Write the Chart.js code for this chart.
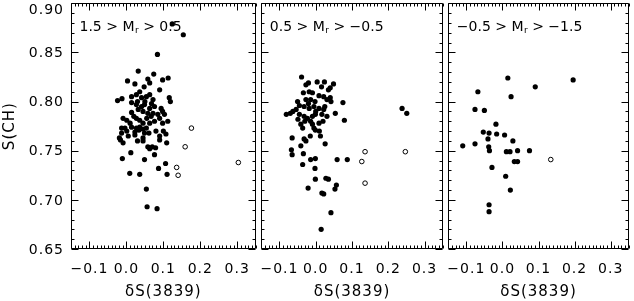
<!DOCTYPE html>
<html><head><meta charset="utf-8">
<script src="https://cdn.jsdelivr.net/npm/chart.js@4.4.1/dist/chart.umd.min.js"></script>
<style>
html,body{margin:0;padding:0;background:#fff;width:634px;height:301px;overflow:hidden}
canvas{position:absolute;top:0}
#c1{left:0}
#c2{left:258px}
#c3{left:445px}
</style></head><body>
<canvas id="c1" width="259" height="301"></canvas>
<canvas id="c2" width="188" height="301"></canvas>
<canvas id="c3" width="187" height="301"></canvas>
<script>
// ---- axis setup ----
const X_MIN = -0.15, X_MAX = 0.35, Y_MIN = 0.65, Y_MAX = 0.90;
const xTickValues = [-0.1, 0.0, 0.1, 0.2, 0.3];
const yTickValues = [0.65, 0.70, 0.75, 0.80, 0.85, 0.90];
const xTitle = 'δS(3839)';
const yTitle = 'S(CH)';
// panel labels: [before subscript, subscript, after]
const label1 = ['1.5 > M', 'r', ' > 0.5'];
const label2 = ['0.5 > M', 'r', ' > \u22120.5'];
const label3 = ['\u22120.5 > M', 'r', ' > \u22121.5'];

// ---- panel 1 (filled dots / open circles) [δS(3839), S(CH)] ----
const p1Filled = [
 [0.124,0.879],[0.154,0.868],[0.084,0.848],[0.032,0.831],[0.003,0.821],[0.023,0.818],[0.058,0.823],[0.074,0.828],
 [0.098,0.822],[0.113,0.824],[0.048,0.815],[0.063,0.819],[0.090,0.812],[-0.024,0.801],[-0.012,0.803],[0.014,0.805],
 [0.027,0.807],[0.036,0.810],[0.041,0.804],[0.054,0.805],[0.063,0.807],[0.072,0.802],[0.116,0.804],[0.119,0.800],
 [0.014,0.799],[0.027,0.797],[0.041,0.795],[0.049,0.797],[0.063,0.793],[0.076,0.795],[0.094,0.793],[0.098,0.790],
 [0.014,0.789],[0.045,0.790],[0.058,0.788],[0.072,0.788],[0.085,0.787],[0.090,0.783],[0.103,0.787],[-0.009,0.783],
 [0.001,0.781],[0.027,0.783],[0.036,0.781],[0.045,0.778],[0.063,0.778],[0.076,0.780],[0.098,0.778],[0.112,0.780],
 [-0.013,0.773],[-0.004,0.773],[0.014,0.774],[0.027,0.773],[0.036,0.774],[0.045,0.772],[0.054,0.773],[-0.013,0.768],
 [0.001,0.770],[0.023,0.769],[0.034,0.771],[0.061,0.768],[0.049,0.768],[-0.019,0.763],[-0.016,0.761],[-0.009,0.758],
 [0.023,0.766],[0.045,0.763],[0.045,0.760],[0.090,0.765],[0.090,0.761],[0.107,0.767],[0.109,0.758],[0.058,0.754],
 [0.063,0.752],[0.070,0.754],[0.079,0.753],[0.012,0.748],[0.076,0.746],[-0.011,0.742],[0.049,0.741],[0.106,0.737],
 [0.087,0.732],[0.009,0.727],[0.036,0.726],[0.110,0.726],[0.054,0.711],[0.056,0.693],[0.083,0.691],
 [0.030,0.800],[0.050,0.800],[0.020,0.785],[0.055,0.783],[0.068,0.798],[0.032,0.792],[0.010,0.778],[0.067,0.785],
 [0.080,0.770],[0.005,0.765],[0.100,0.770],[0.030,0.760]
];
const p1Open = [[0.176,0.773],[0.159,0.754],[0.136,0.733],[0.140,0.725],[0.303,0.738]];

// ---- panel 2 ----
const p2Filled = [
 [-0.039,0.825],[-0.020,0.819],[-0.027,0.817],[0.004,0.820],[0.024,0.820],[0.016,0.815],[0.049,0.818],[0.035,0.812],
 [0.040,0.814],[-0.034,0.809],[-0.018,0.810],[-0.009,0.809],[0.009,0.806],[0.022,0.805],[0.040,0.804],[-0.027,0.802],
 [-0.014,0.802],[-0.002,0.800],[0.031,0.802],[0.042,0.800],[0.075,0.799],[-0.045,0.796],[-0.032,0.795],[-0.018,0.793],
 [-0.005,0.795],[0.009,0.793],[0.022,0.792],[-0.054,0.792],[-0.063,0.790],[-0.081,0.787],[-0.070,0.788],[-0.045,0.787],
 [-0.032,0.785],[-0.023,0.783],[-0.009,0.785],[-0.001,0.787],[0.017,0.787],[0.031,0.785],[0.054,0.788],[0.079,0.781],
 [-0.049,0.782],[-0.041,0.777],[-0.036,0.773],[-0.014,0.780],[-0.009,0.777],[-0.005,0.773],[-0.001,0.771],[0.009,0.778],
 [0.013,0.765],[-0.065,0.763],[-0.032,0.762],[-0.027,0.760],[0.026,0.757],[-0.041,0.755],[-0.067,0.751],[-0.065,0.746],
 [-0.034,0.747],[0.238,0.793],[0.251,0.788],[-0.014,0.741],[-0.001,0.742],[0.059,0.741],[0.087,0.741],[-0.036,0.736],
 [-0.002,0.732],[-0.001,0.721],[0.028,0.722],[0.035,0.721],[0.057,0.715],[0.053,0.711],[-0.021,0.712],[0.017,0.707],
 [0.022,0.706],[0.042,0.687],[0.015,0.670],
 [-0.050,0.800],[-0.020,0.798],[0.000,0.790],[0.020,0.780],[-0.030,0.780],[0.010,0.770],[-0.015,0.765],[0.025,0.795]
];
const p2Open = [[0.136,0.749],[0.247,0.749],[0.127,0.739],[0.136,0.717]];

// ---- panel 3 ----
const p3Filled = [
 [0.015,0.824],[0.196,0.822],[0.091,0.815],[-0.068,0.810],[0.024,0.805],[-0.076,0.792],[-0.050,0.791],[-0.018,0.777],
 [-0.053,0.769],[-0.037,0.768],[-0.040,0.762],[-0.016,0.767],[0.006,0.766],[0.029,0.760],[-0.110,0.755],[-0.076,0.757],
 [-0.038,0.754],[-0.036,0.750],[0.011,0.749],[0.021,0.749],[0.042,0.750],[0.075,0.750],[-0.029,0.733],[0.033,0.739],
 [0.042,0.739],[0.009,0.724],[0.022,0.710],[-0.037,0.695],[-0.037,0.688]
];
const p3Open = [[0.134,0.741]];

const FAMILY = '"DejaVu Sans", "Liberation Sans", sans-serif';
const SPACING = '1px';

const framePlugin = {
  id: 'panelFrame',
  beforeUpdate(chart) { chart.ctx.letterSpacing = SPACING; },
  beforeDraw(chart) { chart.ctx.letterSpacing = SPACING; },
  afterDatasetsDraw(chart, args, opts) {
    const {ctx, chartArea: a, scales: {x, y}} = chart;
    ctx.save();
    ctx.strokeStyle = '#000';
    ctx.lineWidth = 1;
    const L = Math.round(a.left) + 0.5, R = Math.round(a.right) - 0.5;
    const T = Math.round(a.top) + 0.5, B = Math.round(a.bottom) - 0.5;
    ctx.beginPath();
    ctx.rect(L, T, R - L, B - T);
    for (let i = Math.round(X_MIN * 100); i <= Math.round(X_MAX * 100); i++) {
      const px = Math.round(x.getPixelForValue(i / 100)) + 0.5;
      const len = (i % 10 === 0) ? 7 : 3;
      ctx.moveTo(px, T); ctx.lineTo(px, T + len);
      ctx.moveTo(px, B); ctx.lineTo(px, B - len);
    }
    for (let i = Math.round(Y_MIN * 100); i <= Math.round(Y_MAX * 100); i++) {
      const py = Math.round(y.getPixelForValue(i / 100)) + 0.5;
      const len = (i % 5 === 0) ? 7 : 3;
      ctx.moveTo(L, py); ctx.lineTo(L + len, py);
      ctx.moveTo(R, py); ctx.lineTo(R - len, py);
    }
    ctx.stroke();
    // panel label
    const lab = opts.label;
    if (lab) {
      ctx.letterSpacing = '0px';
      ctx.fillStyle = '#000';
      ctx.textBaseline = 'middle';
      ctx.textAlign = 'left';
      let tx = a.left + 8.5;
      const ty = 27;
      ctx.font = '14px ' + FAMILY;
      ctx.fillText(lab[0], tx, ty);
      tx += ctx.measureText(lab[0]).width;
      ctx.font = '9px ' + FAMILY;
      ctx.fillText(lab[1], tx + 0.5, ty + 4);
      tx += ctx.measureText(lab[1]).width + 0.5;
      ctx.font = '14px ' + FAMILY;
      ctx.fillText(lab[2], tx, ty);
    }
    ctx.restore();
  }
};

function fmtX(v) {
  return (v < -1e-9 ? '\u2212' : '') + Math.abs(v).toFixed(1);
}

function makeChart(id, filled, open, label, showY) {
  return new Chart(document.getElementById(id), {
    type: 'scatter',
    data: {
      datasets: [
        {data: filled.map(p => ({x: p[0], y: p[1]})), pointRadius: 2.6, pointHoverRadius: 2.6,
         pointBackgroundColor: '#000', pointBorderWidth: 0, pointStyle: 'circle'},
        {data: open.map(p => ({x: p[0], y: p[1]})), pointRadius: 2.3, pointHoverRadius: 2.3,
         pointBackgroundColor: 'rgba(255,255,255,0)', pointBorderColor: '#000', pointBorderWidth: 1, pointStyle: 'circle'}
      ]
    },
    options: {
      responsive: false, animation: false, devicePixelRatio: 1, events: [],
      layout: {padding: {top: 1, left: 0, right: 0, bottom: 0}},
      plugins: {legend: {display: false}, tooltip: {enabled: false}, panelFrame: {label: label}},
      scales: {
        x: {
          type: 'linear', min: X_MIN, max: X_MAX,
          grid: {display: false, drawTicks: false}, border: {display: false},
          afterBuildTicks: s => { s.ticks = xTickValues.map(v => ({value: v})); },
          afterFit: s => { s.height = 52; s.paddingLeft = 0; s.paddingRight = 0; },
          ticks: {padding: 12, color: '#000', font: {family: FAMILY, size: 14}, maxRotation: 0, autoSkip: false,
                  callback: v => fmtX(v)},
          title: {display: true, text: xTitle, color: '#000', font: {family: FAMILY, size: 15}, padding: {top: 0, bottom: 0}}
        },
        y: {
          type: 'linear', min: Y_MIN, max: Y_MAX, display: showY,
          grid: {display: false, drawTicks: false}, border: {display: false},
          afterBuildTicks: s => { s.ticks = yTickValues.map(v => ({value: v})); },
          afterFit: s => { s.width = showY ? 71 : 0; s.paddingTop = 0; s.paddingBottom = 0; },
          ticks: {padding: 7, color: '#000', labelOffset: 1, autoSkip: false,
                  font: c => ({family: FAMILY, size: 14,
                               lineHeight: (c.tick && Math.abs(c.tick.value - Y_MAX) < 1e-9) ? 0.85 : 1.2}),
                  callback: v => Math.abs(v - Y_MAX) < 1e-9 ? ['', v.toFixed(2)] : v.toFixed(2)},
          title: {display: true, text: yTitle, color: '#000', font: {family: FAMILY, size: 15}, padding: {top: 1, bottom: 0}}
        }
      }
    },
    plugins: [framePlugin]
  });
}

makeChart('c1', p1Filled, p1Open, label1, true);
makeChart('c2', p2Filled, p2Open, label2, false);
makeChart('c3', p3Filled, p3Open, label3, false);
</script>
</body></html>
